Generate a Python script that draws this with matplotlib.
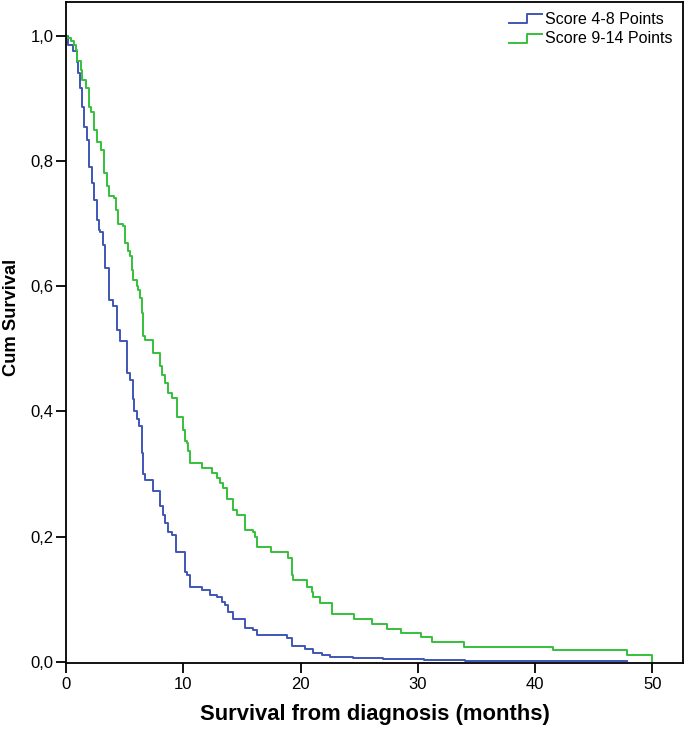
import matplotlib
matplotlib.use("Agg")
import matplotlib.pyplot as plt
from matplotlib.lines import Line2D
from matplotlib.legend_handler import HandlerLine2D
from matplotlib.ticker import FuncFormatter

plt.rcParams["font.family"] = ["Liberation Sans", "DejaVu Sans"]

# ------------------ DATA ------------------ #
# Score 4-8 Points: step times (months) and survival after each step
low_time = [0, 0.2, 0.62, 0.91, 1.05, 1.19, 1.39, 1.53, 1.82, 1.96, 2.24, 2.39,
            2.67, 2.81, 2.9, 3.18, 3.32, 3.69, 4.03, 4.32, 4.6, 5.17, 5.46,
            5.69, 5.8, 6.03, 6.25, 6.45, 6.59, 6.73, 7.44, 8.01, 8.3, 8.44,
            8.72, 9.01, 9.38, 10.14, 10.34, 10.57, 11.57, 12.28, 12.85, 13.27,
            13.55, 13.84, 14.26, 15.26, 15.97, 16.26, 18.82, 19.24, 20.37,
            21.08, 21.8, 22.5, 24.5, 27.0, 30.5, 34.0, 47.8]
low_surv = [1.0, 0.985, 0.975, 0.958, 0.94, 0.916, 0.887, 0.855, 0.834, 0.79,
            0.765, 0.738, 0.706, 0.69, 0.687, 0.666, 0.629, 0.578, 0.568, 0.53,
            0.512, 0.462, 0.45, 0.419, 0.4, 0.387, 0.376, 0.334, 0.30, 0.291,
            0.272, 0.248, 0.235, 0.222, 0.208, 0.203, 0.176, 0.144, 0.138,
            0.12, 0.114, 0.107, 0.104, 0.096, 0.091, 0.08, 0.068, 0.054, 0.051,
            0.043, 0.038, 0.025, 0.02, 0.014, 0.011, 0.008, 0.006, 0.004,
            0.002, 0.001, 0.001]

# Score 9-14 Points
high_time = [0, 0.11, 0.4, 0.68, 0.83, 0.96, 1.25, 1.39, 1.68, 1.96, 2.11, 2.39,
             2.67, 2.96, 3.24, 3.52, 3.67, 4.09, 4.24, 4.46, 4.88, 5.03, 5.31,
             5.46, 5.6, 5.74, 6.03, 6.16, 6.31, 6.45, 6.59, 6.73, 7.44, 8.01,
             8.16, 8.44, 8.72, 9.01, 9.44, 10.0, 10.14, 10.34, 10.43, 10.57,
             11.57, 12.42, 12.85, 13.13, 13.41, 13.75, 14.21, 14.55, 15.26,
             15.97, 16.11, 16.26, 17.45, 18.95, 19.24, 19.38, 20.57, 20.95,
             21.08, 21.65, 22.65, 24.55, 26.11, 27.39, 28.53, 30.24, 31.22,
             33.93, 41.54, 47.79, 49.98]
high_surv = [1.0, 0.996, 0.991, 0.986, 0.978, 0.959, 0.946, 0.93, 0.916, 0.887,
             0.879, 0.85, 0.831, 0.818, 0.781, 0.76, 0.744, 0.741, 0.722, 0.699,
             0.696, 0.669, 0.656, 0.648, 0.626, 0.61, 0.6, 0.594, 0.581, 0.557,
             0.52, 0.514, 0.493, 0.472, 0.458, 0.445, 0.429, 0.421, 0.391,
             0.371, 0.352, 0.349, 0.336, 0.318, 0.309, 0.302, 0.294, 0.286,
             0.278, 0.26, 0.243, 0.235, 0.211, 0.208, 0.2, 0.184, 0.175, 0.166,
             0.139, 0.13, 0.12, 0.111, 0.104, 0.094, 0.076, 0.069, 0.06, 0.053,
             0.046, 0.039, 0.032, 0.024, 0.018, 0.011, 0.0]

labels = ["Score 4-8 Points", "Score 9-14 Points"]
colors = ["#3F56B5", "#35C03A"]
x_ticks = [0, 10, 20, 30, 40, 50]
y_ticks = [0.0, 0.2, 0.4, 0.6, 0.8, 1.0]


# legend handle drawn as a little step, like SPSS does
class StepHandler(HandlerLine2D):
    def create_artists(self, legend, orig_handle, xdescent, ydescent,
                       width, height, fontsize, trans):
        x0 = -xdescent
        y0 = -ydescent
        xs = [x0, x0 + width * 0.55, x0 + width * 0.55, x0 + width]
        ys = [y0 + height * 0.05, y0 + height * 0.05, y0 + height * 0.85, y0 + height * 0.85]
        ln = Line2D(xs, ys, color=orig_handle.get_color(), lw=orig_handle.get_linewidth())
        ln.set_transform(trans)
        return [ln]


fig = plt.figure(figsize=(6.85, 7.3), dpi=100)
ax = fig.add_axes([0.0964, 0.0918, 0.9006, 0.9055])

l1, = ax.step(low_time, low_surv, where="post", color=colors[0], lw=1.4, label=labels[0])
l2, = ax.step(high_time, high_surv, where="post", color=colors[1], lw=1.4, label=labels[1])

ax.set_xlim(0, 52.6)
ax.set_ylim(-0.002, 1.054)
ax.set_xticks(x_ticks)
ax.set_yticks(y_ticks)
ax.yaxis.set_major_formatter(FuncFormatter(lambda v, p: f"{v:.1f}".replace(".", ",")))
ax.tick_params(direction="out", length=7, width=1.3, labelsize=12, color="black")
ax.tick_params(axis="x", pad=3)
ax.tick_params(axis="y", pad=2)
for sp in ax.spines.values():
    sp.set_linewidth(1.3)

ax.set_xlabel("Survival from diagnosis (months)", fontsize=15.8, fontweight="bold", labelpad=9)
ax.set_ylabel("Cum Survival", fontsize=13.2, fontweight="bold")
ax.yaxis.set_label_coords(-0.074, 0.522)

ax.legend(handles=[l1, l2], loc="upper right", frameon=False, fontsize=11.5,
          handlelength=2.1, handletextpad=0.2, labelspacing=0.3,
          borderaxespad=0.2, bbox_to_anchor=(0.999, 1.0),
          handler_map={Line2D: StepHandler()})

fig.savefig("out.png", dpi=100)
